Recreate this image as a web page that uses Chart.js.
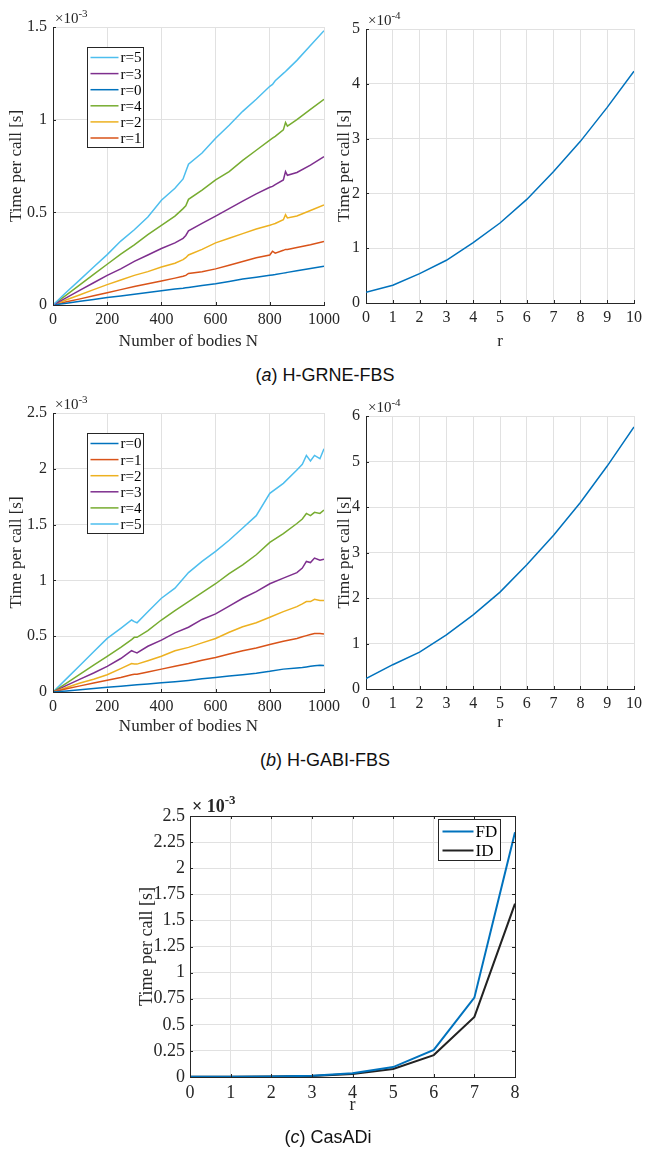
<!DOCTYPE html>
<html>
<head>
<meta charset="utf-8">
<script src="https://cdn.jsdelivr.net/npm/chart.js@4.4.1/dist/chart.umd.min.js"></script>
<style>
body{margin:0;background:#fff;width:647px;height:1152px;position:relative;overflow:hidden}
.plot{position:absolute}
.cap{position:absolute;width:300px;text-align:center;font-family:"Liberation Sans",Arial,sans-serif;font-size:18px;line-height:22px;color:#111}
</style>
</head>
<body>
<div class="plot" style="left:0;top:0;width:345px;height:360px"><canvas id="grneN"></canvas></div>
<div class="plot" style="left:334px;top:0;width:313px;height:360px"><canvas id="grneR"></canvas></div>
<div class="cap" style="left:175px;top:364px">(<i>a</i>) H-GRNE-FBS</div>
<div class="plot" style="left:0;top:385px;width:345px;height:360px"><canvas id="gabiN"></canvas></div>
<div class="plot" style="left:334px;top:385px;width:313px;height:360px"><canvas id="gabiR"></canvas></div>
<div class="cap" style="left:175px;top:749px">(<i>b</i>) H-GABI-FBS</div>
<div class="plot" style="left:135px;top:790px;width:405px;height:340px"><canvas id="casadi"></canvas></div>
<div class="cap" style="left:178px;top:1126px">(<i>c</i>) CasADi</div>
<script>
// (a) H-GRNE-FBS, time per call vs N, values in 1e-3 s
const nBodiesA = [0,50,100,150,200,250,300,350,400,450,480,490,500,550,600,650,700,750,800,810,820,850,858,865,900,950,1000];
const grneR0 = [0,0.01,0.02,0.03,0.04,0.049,0.058,0.068,0.077,0.086,0.091,0.093,0.095,0.105,0.115,0.127,0.14,0.15,0.16,0.162,0.164,0.172,0.174,0.176,0.185,0.197,0.209];
const grneR1 = [0,0.017,0.033,0.05,0.066,0.083,0.10,0.115,0.13,0.145,0.155,0.16,0.17,0.18,0.195,0.215,0.235,0.255,0.27,0.29,0.28,0.295,0.30,0.30,0.31,0.325,0.343];
const grneR2 = [0,0.028,0.055,0.083,0.11,0.135,0.16,0.18,0.205,0.225,0.245,0.255,0.27,0.30,0.335,0.36,0.385,0.41,0.43,0.435,0.44,0.46,0.487,0.47,0.48,0.51,0.54];
const grneR3 = [0,0.04,0.08,0.12,0.16,0.195,0.235,0.27,0.305,0.335,0.36,0.375,0.40,0.44,0.48,0.52,0.56,0.60,0.635,0.64,0.65,0.675,0.72,0.70,0.715,0.755,0.80];
const grneR4 = [0,0.055,0.11,0.165,0.22,0.275,0.325,0.38,0.43,0.48,0.52,0.535,0.57,0.62,0.675,0.72,0.78,0.835,0.89,0.90,0.91,0.945,0.985,0.965,1.0,1.055,1.11];
const grneR5 = [0,0.07,0.137,0.205,0.272,0.345,0.406,0.475,0.565,0.63,0.68,0.72,0.76,0.82,0.90,0.97,1.045,1.11,1.18,1.19,1.21,1.25,1.26,1.27,1.32,1.40,1.48];

// (b) H-GABI-FBS, time per call vs N, values in 1e-3 s
const nBodiesB = [0,50,100,150,200,250,290,300,310,350,400,450,500,550,600,650,700,750,800,850,900,920,935,950,965,985,1000];
const gabiR0 = [0,0.01,0.02,0.032,0.042,0.052,0.06,0.062,0.064,0.072,0.082,0.092,0.104,0.118,0.13,0.143,0.155,0.168,0.185,0.205,0.215,0.22,0.225,0.23,0.235,0.24,0.238];
const gabiR1 = [0,0.03,0.055,0.08,0.105,0.13,0.155,0.16,0.16,0.18,0.205,0.23,0.255,0.285,0.31,0.34,0.37,0.395,0.425,0.455,0.48,0.495,0.505,0.515,0.525,0.525,0.52];
const gabiR2 = [0,0.04,0.08,0.115,0.155,0.21,0.255,0.25,0.25,0.28,0.32,0.37,0.40,0.44,0.48,0.535,0.585,0.62,0.67,0.72,0.765,0.79,0.81,0.81,0.83,0.82,0.82];
const gabiR3 = [0,0.06,0.115,0.17,0.23,0.30,0.37,0.36,0.35,0.41,0.465,0.53,0.58,0.65,0.70,0.77,0.84,0.90,0.97,1.02,1.07,1.11,1.17,1.16,1.20,1.18,1.19];
const gabiR4 = [0,0.08,0.16,0.24,0.32,0.40,0.47,0.49,0.49,0.55,0.645,0.73,0.81,0.89,0.97,1.06,1.14,1.23,1.34,1.42,1.51,1.55,1.60,1.58,1.61,1.60,1.63];
const gabiR5 = [0,0.12,0.24,0.36,0.48,0.57,0.645,0.63,0.62,0.72,0.84,0.93,1.07,1.17,1.26,1.36,1.47,1.58,1.78,1.87,1.99,2.04,2.12,2.07,2.12,2.09,2.18];

// time per call vs r at fixed N, values in 1e-4 s
const rSteps = [0,1,2,3,4,5,6,7,8,9,10];
const grneVsR = [0.195,0.323,0.537,0.78,1.10,1.46,1.89,2.40,2.95,3.57,4.23];
const gabiVsR = [0.227,0.534,0.81,1.19,1.63,2.13,2.73,3.38,4.10,4.90,5.76];

// (c) CasADi, values in 1e-3 s
const rCas = [0,1,2,3,4,5,6,7,8];
const casFD = [0.003,0.003,0.005,0.012,0.035,0.095,0.26,0.76,2.344];
const casID = [0.002,0.002,0.004,0.010,0.028,0.076,0.21,0.576,1.66];

// tick labels
const nTicks = [0,200,400,600,800,1000];
const rTicks = [0,1,2,3,4,5,6,7,8,9,10];
const yTicksA = [0,0.5,1,1.5];
const yTicksAR = [0,1,2,3,4,5];
const yTicksB = [0,0.5,1,1.5,2,2.5];
const yTicksBR = [0,1,2,3,4,5,6];
const yTicksC = [0,0.25,0.5,0.75,1,1.25,1.5,1.75,2,2.25,2.5];
const rTicksC = [0,1,2,3,4,5,6,7,8];

const C = {r0:'#0072BD', r1:'#D95319', r2:'#EDB120', r3:'#7E2F8E', r4:'#77AC30', r5:'#4DBEEE', id:'#222222'};
const AX = '#262626';
const SERIF = '"Liberation Serif","Times New Roman",serif';

Chart.defaults.font.family = SERIF;
Chart.defaults.color = AX;

// matlab-like decorations: inward ticks, box, exponent label, legend box
const mlab = {
    id: 'mlab',
    afterDatasetsDraw(chart, args, o) {
        const {ctx, chartArea: a, scales} = chart;
        ctx.save();
        ctx.strokeStyle = AX;
        ctx.lineWidth = 1;
        ctx.beginPath();
        scales.x.ticks.forEach(function(t){
            const px = Math.round(scales.x.getPixelForValue(t.value)) + 0.5;
            ctx.moveTo(px, a.bottom); ctx.lineTo(px, a.bottom - 3);
            if (o.box) { ctx.moveTo(px, a.top); ctx.lineTo(px, a.top + 3); }
        });
        scales.y.ticks.forEach(function(t){
            const py = Math.round(scales.y.getPixelForValue(t.value)) + 0.5;
            ctx.moveTo(a.left, py); ctx.lineTo(a.left + 3, py);
            if (o.box) { ctx.moveTo(a.right, py); ctx.lineTo(a.right - 3, py); }
        });
        ctx.stroke();
        if (o.box) {
            ctx.strokeRect(Math.round(a.left) + 0.5, Math.round(a.top) + 0.5, Math.round(a.width), Math.round(a.height));
        }
        // exponent
        ctx.fillStyle = AX;
        ctx.textAlign = 'left';
        ctx.textBaseline = 'alphabetic';
        ctx.font = o.expFont;
        const ex = a.left + 2, ey = a.top - 4;
        ctx.fillText(o.expBase, ex, ey);
        const w = ctx.measureText(o.expBase).width;
        ctx.font = o.supFont;
        ctx.fillText(o.expPow, ex + w, ey - o.supRaise);
        // legend
        const L = o.legend;
        if (L) {
            const x = Math.round(a.left + L.dx) + 0.5, y = Math.round(a.top + L.dy) + 0.5;
            ctx.fillStyle = '#fff';
            ctx.fillRect(x, y, L.w, L.h);
            ctx.strokeStyle = AX;
            ctx.lineWidth = 1;
            ctx.strokeRect(x, y, L.w, L.h);
            ctx.font = L.font;
            ctx.textBaseline = 'middle';
            chart.data.datasets.forEach(function(ds, i){
                const cy = y + L.first + i * L.row;
                ctx.strokeStyle = ds.borderColor;
                ctx.lineWidth = ds.borderWidth;
                ctx.beginPath();
                ctx.moveTo(x + L.pad, cy);
                ctx.lineTo(x + L.pad + L.len, cy);
                ctx.stroke();
                ctx.fillStyle = '#000';
                ctx.fillText(ds.label, x + L.pad + L.len + 2, cy + 1);
            });
        }
        ctx.restore();
    }
};

function fmt(v) { return String(+v.toFixed(2)); }

function plotAxes(id, o) {
    return new Chart(document.getElementById(id), {
        type: 'line',
        data: {
            datasets: o.series.map(function(s){
                return {
                    label: s.label,
                    data: s.x.map(function(x, i){ return {x: x, y: s.y[i]}; }),
                    borderColor: s.color,
                    borderWidth: o.lw,
                    pointRadius: 0,
                    tension: 0,
                    fill: false
                };
            })
        },
        plugins: [mlab],
        options: {
            animation: false,
            responsive: true,
            maintainAspectRatio: false,
            layout: {padding: o.pad},
            plugins: {
                legend: {display: false},
                tooltip: {enabled: false},
                mlab: o.mlab
            },
            scales: {
                x: {
                    type: 'linear',
                    min: o.xTicks[0],
                    max: o.xTicks[o.xTicks.length - 1],
                    afterBuildTicks: function(s){ s.ticks = o.xTicks.map(function(v){ return {value: v}; }); },
                    afterFit: function(s){ s.height = o.xh; },
                    ticks: {autoSkip: false, maxRotation: 0, padding: o.xTickPad, font: {size: o.tickSize}, color: AX, callback: fmt},
                    grid: {color: '#e1e1e1', drawTicks: false},
                    border: {color: AX},
                    title: {display: true, text: o.xTitle, font: {size: o.titleSize}, color: AX, padding: {top: 0, bottom: o.xTitlePad}}
                },
                y: {
                    min: o.yTicks[0],
                    max: o.yTicks[o.yTicks.length - 1],
                    afterBuildTicks: function(s){ s.ticks = o.yTicks.map(function(v){ return {value: v}; }); },
                    afterFit: function(s){ s.width = o.yw; },
                    ticks: {autoSkip: false, padding: o.yTickPad, font: {size: o.tickSize}, color: AX, callback: fmt},
                    grid: {color: '#e1e1e1', drawTicks: false},
                    border: {color: AX},
                    title: {display: true, text: 'Time per call [s]', font: {size: o.titleSize}, color: AX, padding: {top: o.yTitlePad, bottom: 0}}
                }
            }
        }
    });
}

const expSmall = {expFont: '15px ' + SERIF, supFont: '11px ' + SERIF, supRaise: 6};
const legSmall = {dx: 34, dy: 20, w: 56, h: 100, first: 10, row: 16.1, pad: 3, len: 28, font: '15px ' + SERIF};

plotAxes('grneN', {
    series: [
        {label: 'r=5', x: nBodiesA, y: grneR5, color: C.r5},
        {label: 'r=3', x: nBodiesA, y: grneR3, color: C.r3},
        {label: 'r=0', x: nBodiesA, y: grneR0, color: C.r0},
        {label: 'r=4', x: nBodiesA, y: grneR4, color: C.r4},
        {label: 'r=2', x: nBodiesA, y: grneR2, color: C.r2},
        {label: 'r=1', x: nBodiesA, y: grneR1, color: C.r1}
    ],
    lw: 1.5, xTicks: nTicks, yTicks: yTicksA,
    pad: {left: 0, top: 27, right: 16, bottom: 0}, yw: 53, xh: 55,
    tickSize: 16, titleSize: 17, xTickPad: 5, yTickPad: 6, xTitlePad: 8, yTitlePad: 6,
    xTitle: 'Number of bodies N',
    mlab: Object.assign({expBase: '\u00d710', expPow: '-3', legend: legSmall}, expSmall)
});

plotAxes('grneR', {
    series: [{label: 'N', x: rSteps, y: grneVsR, color: C.r0}],
    lw: 1.5, xTicks: rTicks, yTicks: yTicksAR,
    pad: {left: 0, top: 29, right: 8, bottom: 0}, yw: 32, xh: 57,
    tickSize: 16, titleSize: 17, xTickPad: 5, yTickPad: 6, xTitlePad: 8, yTitlePad: 0,
    xTitle: 'r',
    mlab: Object.assign({expBase: '\u00d710', expPow: '-4'}, expSmall)
});

plotAxes('gabiN', {
    series: [
        {label: 'r=0', x: nBodiesB, y: gabiR0, color: C.r0},
        {label: 'r=1', x: nBodiesB, y: gabiR1, color: C.r1},
        {label: 'r=2', x: nBodiesB, y: gabiR2, color: C.r2},
        {label: 'r=3', x: nBodiesB, y: gabiR3, color: C.r3},
        {label: 'r=4', x: nBodiesB, y: gabiR4, color: C.r4},
        {label: 'r=5', x: nBodiesB, y: gabiR5, color: C.r5}
    ],
    lw: 1.5, xTicks: nTicks, yTicks: yTicksB,
    pad: {left: 0, top: 28, right: 16, bottom: 0}, yw: 53, xh: 53,
    tickSize: 16, titleSize: 17, xTickPad: 5, yTickPad: 6, xTitlePad: 8, yTitlePad: 6,
    xTitle: 'Number of bodies N',
    mlab: Object.assign({expBase: '\u00d710', expPow: '-3', legend: legSmall}, expSmall)
});

plotAxes('gabiR', {
    series: [{label: 'N', x: rSteps, y: gabiVsR, color: C.r0}],
    lw: 1.5, xTicks: rTicks, yTicks: yTicksBR,
    pad: {left: 0, top: 31, right: 8, bottom: 0}, yw: 32, xh: 56,
    tickSize: 16, titleSize: 17, xTickPad: 5, yTickPad: 6, xTitlePad: 12, yTitlePad: 0,
    xTitle: 'r',
    mlab: Object.assign({expBase: '\u00d710', expPow: '-4'}, expSmall)
});

plotAxes('casadi', {
    series: [
        {label: 'FD', x: rCas, y: casFD, color: C.r0},
        {label: 'ID', x: rCas, y: casID, color: C.id}
    ],
    lw: 2, xTicks: rTicksC, yTicks: yTicksC,
    pad: {left: 0, top: 26, right: 25, bottom: 0}, yw: 55, xh: 53,
    tickSize: 18, titleSize: 18, xTickPad: 5, yTickPad: 5, xTitlePad: 14, yTitlePad: 1,
    xTitle: 'r',
    mlab: {
        box: true, expBase: '\u00d7 10', expPow: '-3', supRaise: 8,
        expFont: 'bold 18px ' + SERIF, supFont: 'bold 13px ' + SERIF,
        legend: {dx: 248, dy: 3, w: 62, h: 41, first: 12, row: 19, pad: 4, len: 31, font: '17px ' + SERIF}
    }
});
</script>
</body>
</html>
